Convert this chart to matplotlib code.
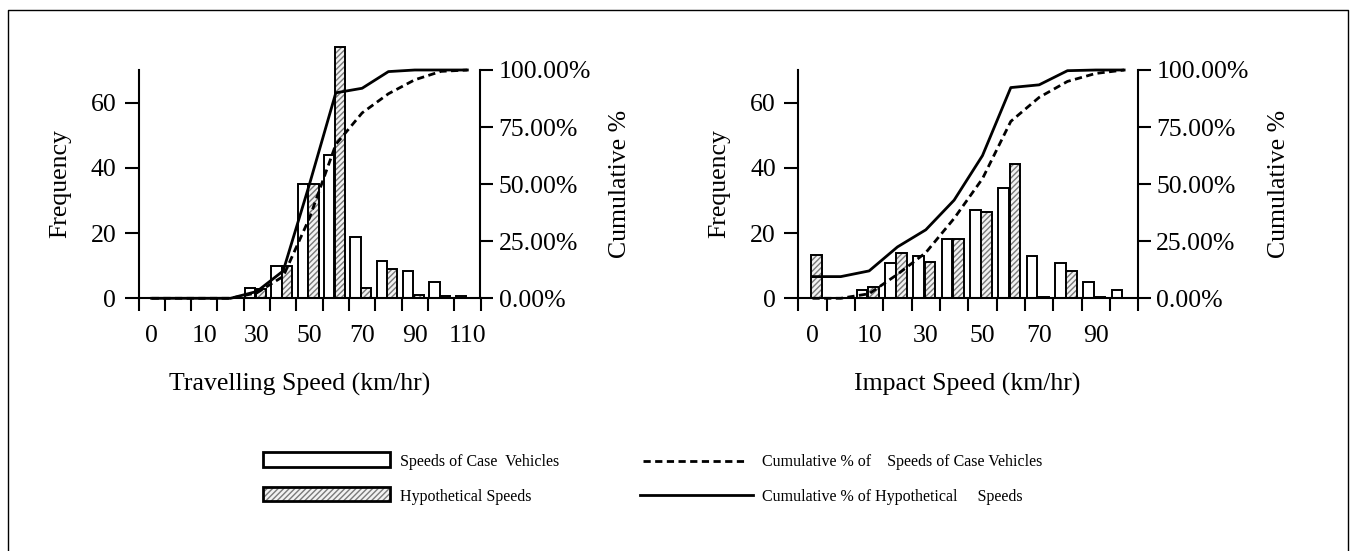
import numpy as np
import matplotlib
matplotlib.use("Agg")
import matplotlib.pyplot as plt
from matplotlib.patches import Rectangle
from matplotlib.lines import Line2D

plt.rcParams['font.family'] = ['Liberation Serif', 'DejaVu Serif']

# ---------------- data ----------------
# Left: travelling speed
trav_labels = ['0', '', '10', '', '30', '', '50', '', '70', '', '90', '', '110']
trav_case = [0, 0, 0, 0, 3.3, 9.8, 35, 44, 18.9, 11.5, 8.4, 5.1, 0.8]
trav_hyp = [0, 0, 0, 0, 3.0, 9.8, 35, 77, 3.3, 8.9, 1.0, 0.8, 0]
trav_cum_case = [0, 0, 0, 0, 2.4, 9.6, 35.2, 67.4, 81.2, 89.6, 95.7, 99.4, 100]
trav_cum_hyp = [0, 0, 0, 0, 3.0, 12.0, 50.0, 90.0, 92.0, 99.3, 100, 100, 100]

# Right: impact speed
imp_labels = ['0', '', '10', '', '30', '', '50', '', '70', '', '90', '']
imp_case = [0, 0, 2.6, 10.8, 13.1, 18.3, 27.1, 33.8, 13.1, 10.8, 5.1, 2.6]
imp_hyp = [13.3, 0, 3.4, 14.0, 11.0, 18.3, 26.5, 41.2, 0.4, 8.5, 0.4, 0]
imp_cum_case = [0, 0, 2.0, 10.5, 20.0, 35.0, 52.4, 77.5, 88.0, 95.0, 98.5, 100]
imp_cum_hyp = [9.5, 9.5, 12.0, 22.5, 30.0, 43.0, 62.5, 92.3, 93.5, 99.7, 100, 100]

freq_ticks = [0, 20, 40, 60]
pct_ticks = [0, 25, 50, 75, 100]

W, H = 1350, 551
fig = plt.figure(figsize=(W / 100, H / 100), dpi=100)

FS = 18.5
LW_SPINE = 1.5
LW_BAR = 1.4
LW_LINE = 2.0
HATCH_COL = '#7a7a7a'


def fx(px):
    return px / W


def fy(py):
    return 1 - py / H


def make_panel(x0px, x1px, labels, case, hyp, cum_case, cum_hyp, bw):
    left = fx(x0px)
    width = fx(x1px) - left
    bottom = fy(298.3)
    height = fy(70.0) - bottom
    ax = fig.add_axes([left, bottom, width, height])
    n = len(labels)
    x = np.arange(n)
    ax.bar(x - 0.25, case, width=bw, facecolor='white', edgecolor='black',
           linewidth=LW_BAR, clip_on=False, zorder=2)
    ax.bar(x + 0.15, hyp, width=bw, facecolor='#f2f2f2', edgecolor=HATCH_COL,
           hatch='//////', linewidth=0, clip_on=False, zorder=2)
    ax.bar(x + 0.15, hyp, width=bw, fill=False, edgecolor='black',
           linewidth=LW_BAR, clip_on=False, zorder=3)
    ax.set_xlim(-0.5, n - 0.5)
    ax.set_ylim(0, 70)
    ax.set_yticks(freq_ticks)
    ax.set_yticklabels([str(v) for v in freq_ticks])
    ax.set_xticks(x)
    ax.set_xticklabels(labels)
    ax.set_xticks(np.arange(n + 1) - 0.5, minor=True)
    ax.tick_params(axis='x', which='major', length=0, pad=19, labelsize=FS)
    ax.tick_params(axis='x', which='minor', length=9, width=LW_SPINE, direction='out')
    ax.tick_params(axis='y', length=10, width=LW_SPINE, direction='out', pad=6, labelsize=FS)
    for s in ['top', 'right']:
        ax.spines[s].set_visible(False)
    for s in ['left', 'bottom']:
        ax.spines[s].set_linewidth(LW_SPINE)
    ax.patch.set_alpha(0)

    ax2 = ax.twinx()
    ax2.plot(x, cum_case, color='black', lw=LW_LINE, linestyle=(0, (2.6, 1.6)),
             clip_on=False, zorder=4)
    ax2.plot(x, cum_hyp, color='black', lw=LW_LINE, linestyle='-',
             clip_on=False, zorder=4)
    ax2.set_ylim(0, 100)
    ax2.set_yticks(pct_ticks)
    ax2.set_yticklabels(['%.2f%%' % v for v in pct_ticks])
    ax2.tick_params(axis='y', length=9, width=LW_SPINE, direction='out', pad=4, labelsize=FS)
    for s in ['top', 'left', 'bottom']:
        ax2.spines[s].set_visible(False)
    ax2.spines['right'].set_linewidth(LW_SPINE)
    return ax, ax2


make_panel(138.5, 480.5, trav_labels, trav_case, trav_hyp, trav_cum_case, trav_cum_hyp, 0.39)
make_panel(798.3, 1138.3, imp_labels, imp_case, imp_hyp, imp_cum_case, imp_cum_hyp, 0.37)

# axis titles
fig.text(fx(60), fy(184), 'Frequency', rotation=90, ha='center', va='center', fontsize=FS)
fig.text(fx(620), fy(184), 'Cumulative %', rotation=90, ha='center', va='center', fontsize=FS)
fig.text(fx(719), fy(184), 'Frequency', rotation=90, ha='center', va='center', fontsize=FS)
fig.text(fx(1279), fy(184), 'Cumulative %', rotation=90, ha='center', va='center', fontsize=FS)
fig.text(fx(299.5), fy(384), 'Travelling Speed (km/hr)', ha='center', va='center', fontsize=FS)
fig.text(fx(967), fy(384), 'Impact Speed (km/hr)', ha='center', va='center', fontsize=FS)

# legend (manual)
LFS = 11.5
fig.patches.append(Rectangle((fx(263), fy(467)), fx(390) - fx(263), fy(452) - fy(467),
                             transform=fig.transFigure, facecolor='white',
                             edgecolor='black', linewidth=2.0))
fig.patches.append(Rectangle((fx(263), fy(501)), fx(390) - fx(263), fy(487) - fy(501),
                             transform=fig.transFigure, facecolor='#f2f2f2',
                             edgecolor=HATCH_COL, hatch='//////', linewidth=0))
fig.patches.append(Rectangle((fx(263), fy(501)), fx(390) - fx(263), fy(487) - fy(501),
                             transform=fig.transFigure, fill=False,
                             edgecolor='black', linewidth=2.0))
fig.text(fx(400), fy(462), 'Speeds of Case  Vehicles', ha='left', va='center', fontsize=LFS)
fig.text(fx(400), fy(497), 'Hypothetical Speeds', ha='left', va='center', fontsize=LFS)
fig.lines.append(Line2D([fx(643), fx(748)], [fy(461), fy(461)], transform=fig.transFigure,
                        color='black', lw=2.0, linestyle=(0, (2.6, 1.6))))
fig.lines.append(Line2D([fx(640), fx(753)], [fy(495), fy(495)], transform=fig.transFigure,
                        color='black', lw=2.0))
fig.text(fx(762), fy(462), 'Cumulative % of    Speeds of Case Vehicles', ha='left',
         va='center', fontsize=LFS)
fig.text(fx(762), fy(497), 'Cumulative % of Hypothetical     Speeds', ha='left',
         va='center', fontsize=LFS)

# outer frame
fig.lines.append(Line2D([fx(7.5), fx(7.5), fx(1348), fx(1348)], [0, fy(9.5), fy(9.5), 0],
                        transform=fig.transFigure, color='black', lw=1.0))

fig.savefig('out.png', dpi=100)
